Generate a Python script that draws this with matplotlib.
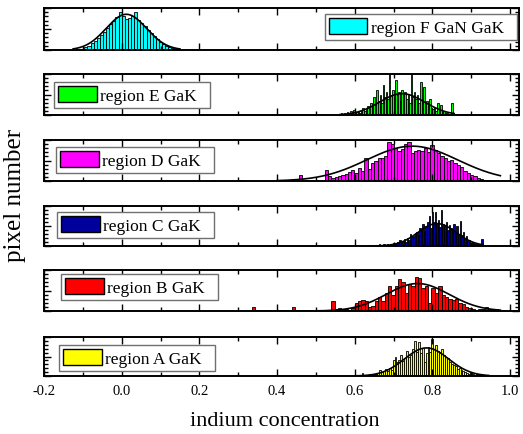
import numpy as np
import matplotlib.pyplot as plt
from matplotlib.ticker import MultipleLocator, FormatStrFormatter
from matplotlib.patches import Patch

plt.rcParams['font.family'] = ['Liberation Serif', 'DejaVu Serif']
plt.rcParams['axes.unicode_minus'] = False

# histogram data, heights as fraction of the panel height
# region F GaN GaK
f_start, f_width = -0.100, 0.008
f_heights = [0.03, 0.06, 0.10, 0.16, 0.22, 0.28, 0.36, 0.44, 0.52, 0.62, 0.70, 0.78,
             0.90, 0.80, 0.74, 0.76, 0.80, 0.90, 0.72, 0.64, 0.56, 0.48, 0.40, 0.33,
             0.26, 0.20, 0.14, 0.10, 0.07, 0.04, 0.02, 0.01]

# region E GaK
e_start, e_width = 0.562, 0.004
e_heights = [0.02, 0.05, 0.00, 0.06, 0.03, 0.08, 0.02, 0.10, 0.04, 0.12, 0.05, 0.08,
             0.10, 0.06, 0.12, 0.18, 0.10, 0.14, 0.22, 0.12, 0.30, 0.20, 0.45, 0.28,
             0.62, 0.35, 0.50, 0.30, 0.72, 0.45, 0.55, 0.40, 1.00, 0.50, 0.60, 0.45,
             0.85, 0.40, 0.55, 0.35, 0.62, 0.48, 0.55, 0.40, 0.50, 0.30, 1.00, 0.45,
             0.55, 0.38, 0.48, 0.30, 0.80, 0.40, 0.68, 0.30, 0.35, 0.22, 0.38, 0.18,
             0.15, 0.20, 0.10, 0.30, 0.12, 0.25, 0.08, 0.10, 0.05, 0.04, 0.02, 0.03,
             0.30, 0.00]

# region D GaK
d_start, d_width = 0.527, 0.0085
d_heights = [0.26, 0.12, 0.08, 0.10, 0.12, 0.14, 0.17, 0.22, 0.28, 0.20, 0.32, 0.25,
             0.56, 0.30, 0.45, 0.50, 0.55, 0.55, 0.62, 0.95, 0.90, 0.80, 0.72, 0.78,
             0.90, 0.95, 0.68, 0.72, 0.75, 0.72, 0.80, 0.70, 0.88, 0.75, 0.68, 0.60,
             0.55, 0.50, 0.52, 0.45, 0.38, 0.35, 0.25, 0.20, 0.15, 0.12, 0.08, 0.05,
             0.03, 0.02]
d_out_x = [0.236, 0.305, 0.460]
d_out_h = [0.03, 0.03, 0.14]

# region C GaK
c_start, c_width = 0.640, 0.004
c_heights = [0.01, 0.00, 0.02, 0.00, 0.03, 0.02, 0.06, 0.02, 0.03, 0.04, 0.02, 0.05,
             0.03, 0.06, 0.04, 0.08, 0.05, 0.07, 0.10, 0.15, 0.08, 0.12, 0.18, 0.10,
             0.20, 0.15, 0.30, 0.22, 0.25, 0.32, 0.35, 0.28, 0.45, 0.40, 0.55, 0.38,
             0.50, 0.60, 0.75, 0.45, 0.85, 0.60, 0.85, 0.55, 0.65, 0.48, 0.90, 0.55,
             0.50, 0.60, 0.40, 0.52, 0.45, 0.38, 0.55, 0.35, 0.50, 0.30, 0.62, 0.28,
             0.35, 0.20, 0.25, 0.12, 0.15, 0.08, 0.10, 0.06, 0.05, 0.04, 0.03, 0.02,
             0.18]

# region B GaK
b_start, b_width = 0.544, 0.0086
b_heights = [0.25, 0.05, 0.08, 0.04, 0.05, 0.03, 0.08, 0.20, 0.25, 0.28, 0.25, 0.10,
             0.12, 0.25, 0.35, 0.25, 0.45, 0.60, 0.40, 0.60, 0.78, 0.70, 0.45, 0.65,
             0.62, 0.83, 0.80, 0.55, 0.60, 0.20, 0.55, 0.45, 0.62, 0.40, 0.35, 0.30,
             0.28, 0.30, 0.20, 0.18, 0.10, 0.08, 0.05, 0.03, 0.05, 0.06, 0.10, 0.06,
             0.03, 0.04]
b_out_x = [0.339, 0.442]
b_out_h = [0.10, 0.10]

# region A GaK
a_start, a_width = 0.600, 0.005
a_heights = [0.02, 0.01, 0.00, 0.03, 0.08, 0.02, 0.03, 0.01, 0.04, 0.03, 0.06, 0.04,
             0.08, 0.15, 0.10, 0.12, 0.18, 0.14, 0.20, 0.16, 0.40, 0.50, 0.35, 0.42,
             0.55, 0.38, 0.45, 0.65, 0.50, 0.55, 0.70, 0.90, 0.62, 0.88, 0.60, 0.72,
             0.35, 0.60, 0.75, 0.62, 0.95, 0.70, 0.80, 0.65, 0.58, 0.70, 0.55, 0.48,
             0.45, 0.35, 0.30, 0.28, 0.25, 0.18, 0.20, 0.15, 0.12, 0.10, 0.08, 0.06,
             0.10, 0.04, 0.03, 0.04, 0.02, 0.02, 0.01, 0.02, 0.01, 0.01]

# gaussian fits: centre, sigma, amplitude, drawn range
fits = {
    'F': (0.012, 0.052, 0.85, -0.125, 0.150),
    'E': (0.722, 0.058, 0.52, 0.562, 0.856),
    'D': (0.748, 0.117, 0.85, 0.400, 0.975),
    'C': (0.812, 0.049, 0.56, 0.640, 0.930),
    'B': (0.762, 0.081, 0.67, 0.340, 0.975),
    'A': (0.785, 0.057, 0.72, 0.600, 0.945),
}

panels = [
    # name, label, colour, start, width, heights, extra x, extra h, legend side
    ('F', 'region F GaN GaK', '#00ffff', f_start, f_width, f_heights, [], [], 'right'),
    ('E', 'region E GaK', '#00ff00', e_start, e_width, e_heights, [], [], 'left'),
    ('D', 'region D GaK', '#ff00ff', d_start, d_width, d_heights, d_out_x, d_out_h, 'left'),
    ('C', 'region C GaK', '#00009c', c_start, c_width, c_heights, [], [], 'left'),
    ('B', 'region B GaK', '#ff0000', b_start, b_width, b_heights, b_out_x, b_out_h, 'left'),
    ('A', 'region A GaK', '#ffff00', a_start, a_width, a_heights, [], [], 'left'),
]

# panel pixel extents (top, bottom) in a 523x435 figure
W, H = 523.0, 435.0
px_tops = [9, 75, 141, 207, 271, 338]
px_bots = [51, 116, 182, 247, 312, 377]
leg_off = [(0.0, 6), (10, 8), (12, 7), (13, 6), (17, 4), (15, 8)]

fig = plt.figure(figsize=(W / 100, H / 100), dpi=100)

for i, (name, label, col, start, width, heights, ox, oh, side) in enumerate(panels):
    top, bot = px_tops[i], px_bots[i]
    ax = fig.add_axes([44 / W, 1 - bot / H, 475 / W, (bot - top) / H])

    centers = start + width * np.arange(len(heights))
    ax.bar(centers, heights, width=width, color=col, edgecolor='black', linewidth=0.6)
    if len(ox):
        ax.bar(ox, oh, width=width, color=col, edgecolor='black', linewidth=0.6)

    mu, sig, amp, lo, hi = fits[name]
    xs = np.linspace(lo, hi, 400)
    ax.plot(xs, amp * np.exp(-0.5 * ((xs - mu) / sig) ** 2), color='black', lw=1.2)

    ax.set_xlim(-0.2, 1.023)
    ax.set_ylim(0, 1.0)
    ax.xaxis.set_major_locator(MultipleLocator(0.2))
    ax.xaxis.set_minor_locator(MultipleLocator(0.1))
    ax.xaxis.set_major_formatter(FormatStrFormatter('%.1f'))
    ax.yaxis.set_major_locator(MultipleLocator(0.5))
    ax.yaxis.set_minor_locator(MultipleLocator(0.1))
    ax.tick_params(which='both', direction='in', top=True, right=True, width=1,
                   labelleft=False, labelbottom=(i == len(panels) - 1),
                   labelsize=10.5, pad=6)
    ax.tick_params(which='major', length=5)
    ax.tick_params(which='minor', length=3)
    for s in ax.spines.values():
        s.set_linewidth(1.4)

    h_ax = bot - top
    dx, dy = leg_off[i]
    if side == 'right':
        loc, anchor = 'upper right', (1 - 2 / 475, 1 - dy / h_ax)
    else:
        loc, anchor = 'upper left', (dx / 475, 1 - dy / h_ax)
    leg = ax.legend(handles=[Patch(facecolor=col, edgecolor='black', label=label + '  ')],
                    loc=loc, bbox_to_anchor=anchor, borderaxespad=0, fancybox=False,
                    framealpha=1, edgecolor='#707070', fontsize=12.5,
                    handlelength=2.2, handleheight=1.0, handletextpad=0.2,
                    borderpad=0.25)
    leg.get_frame().set_linewidth(1.0)

fig.text(15 / W, 1 - 195 / H, 'pixel number', rotation=90, fontsize=18,
         ha='center', va='center')
fig.text(285 / W, 1 - 422 / H, 'indium concentration', fontsize=16,
         ha='center', va='center')

plt.savefig('out.png', dpi=100)
